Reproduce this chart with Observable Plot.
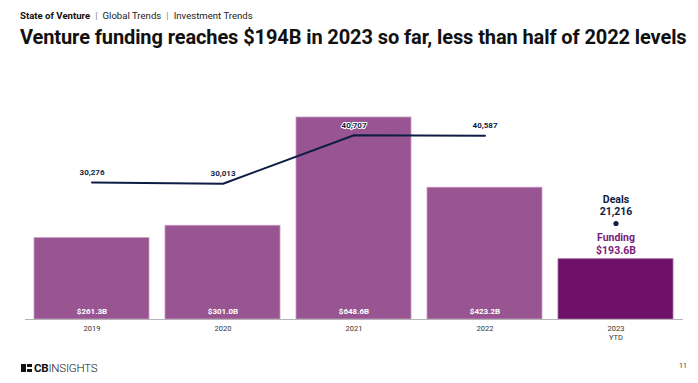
<!DOCTYPE html>
<html>
<head>
<meta charset="utf-8">
<script src="https://cdn.jsdelivr.net/npm/d3@7"></script>
<script src="https://cdn.jsdelivr.net/npm/@observablehq/plot@0.6"></script>
<style>
  html, body { margin: 0; padding: 0; background: #fff; }
  body { width: 698px; height: 383px; position: relative; overflow: hidden; font-family: Roboto, "Liberation Sans", sans-serif; }
  #crumb { position: absolute; left: 20px; top: 10px; font-size: 9.6px; color: #222; white-space: nowrap; }
  #crumb b { font-weight: 700; color: #111; }
  #crumb .sep { color: #888; margin: 0 5px; }
  #title { position: absolute; left: 20px; top: 25px; font-size: 20px; font-weight: 700; color: #111; white-space: nowrap; letter-spacing: -0.1px; }
  #chart { position: absolute; left: 0; top: 60px; }
  #logo { position: absolute; left: 21px; top: 361px; font-size: 11.5px; color: #111; white-space: nowrap; display: flex; align-items: center; }
  #logo .icon { display: inline-block; width: 11px; height: 8px; margin-right: 2px; position: relative; }
  #logo .icon i { position: absolute; background: #111; }
  #logo .cb { font-weight: 700; letter-spacing: -0.2px; }
  #logo .ins { font-weight: 300; letter-spacing: -0.2px; }
  #page { position: absolute; left: 679px; top: 362px; font-size: 7px; color: #333; }
</style>
</head>
<body>
<div id="crumb"><b>State of Venture</b><span class="sep">|</span>Global Trends<span class="sep">|</span>Investment Trends</div>
<div id="title">Venture funding reaches $194B in 2023 so far, less than half of 2022 levels</div>
<div id="chart"></div>
<div id="logo"><span class="icon"><i style="left:0;top:0;width:5px;height:8px"></i><i style="left:6px;top:0;width:5px;height:3px"></i><i style="left:6px;top:5px;width:5px;height:3px"></i></span><span class="cb">CB</span><span class="ins">INSIGHTS</span></div>
<div id="page">11</div>
<script>
const years = ["2019", "2020", "2021", "2022", "2023"];
const tickLabels = ["2019", "2020", "2021", "2022", "2023\nYTD"];
const funding = [261.3, 301.0, 648.6, 423.2, 193.6];
const deals = [30276, 30013, 40707, 40587, 21216];

const dealsPerUnit = 68.83; // deals axis max relative to funding axis
const data = years.map((y, i) => ({year: y, funding: funding[i], deals: deals[i], ytd: i === 4}));
const full = data.filter(d => !d.ytd);
const ytd = data.filter(d => d.ytd);

const barColor = "#985592";
const ytdColor = "#6f1068";
const navy = "#0f1d45";
const font = "Roboto, 'Liberation Sans', sans-serif";

const chart = Plot.plot({
  width: 698,
  height: 290,
  marginLeft: 16,
  marginRight: 8,
  marginTop: 57,
  marginBottom: 31,
  style: {fontFamily: font, background: "transparent", overflow: "visible"},
  x: {domain: years, padding: 0.125, label: null},
  y: {domain: [0, 648.6], axis: null},
  marks: [
    Plot.barY(data, {x: "year", y: "funding", fill: d => d.ytd ? ytdColor : barColor, stroke: d => d.ytd ? "#a76aa0" : "#c89ac3", strokeWidth: 0.8}),
    Plot.ruleY([0], {stroke: "#b5b5b5", strokeWidth: 1, insetLeft: 9, insetRight: 7}),
    Plot.axisX({tickSize: 0, tickPadding: 6, fontSize: 7.5, fill: "#333", tickFormat: d => tickLabels[years.indexOf(d)], lineHeight: 1.1}),
    Plot.text(full, {x: "year", y: 0, dy: -8, text: d => `$${d.funding.toFixed(1)}B`, fill: "white", fontWeight: 700, fontSize: 8}),
    Plot.lineY(full, {x: "year", y: d => d.deals / dealsPerUnit, stroke: navy, strokeWidth: 2}),
    Plot.text(full, {x: "year", y: d => d.deals / dealsPerUnit, dy: -10, text: d => d3.format(",")(d.deals), fill: navy, stroke: "white", strokeWidth: 2, fontWeight: 700, fontSize: 8}),
    Plot.dot(ytd, {x: "year", y: d => d.deals / dealsPerUnit, r: 2.6, fill: navy}),
    Plot.text(ytd, {x: "year", y: d => d.deals / dealsPerUnit, dy: -24, text: () => "Deals", fill: navy, fontWeight: 700, fontSize: 10.5}),
    Plot.text(ytd, {x: "year", y: d => d.deals / dealsPerUnit, dy: -12, text: d => d3.format(",")(d.deals), fill: navy, fontWeight: 700, fontSize: 10.5}),
    Plot.text(ytd, {x: "year", y: "funding", dy: -22, text: () => "Funding", fill: "#7b1c7b", fontWeight: 700, fontSize: 10.5}),
    Plot.text(ytd, {x: "year", y: "funding", dy: -9, text: d => `$${d.funding.toFixed(1)}B`, fill: "#7b1c7b", fontWeight: 700, fontSize: 10.5})
  ]
});
document.getElementById("chart").appendChild(chart);
</script>
</body>
</html>
